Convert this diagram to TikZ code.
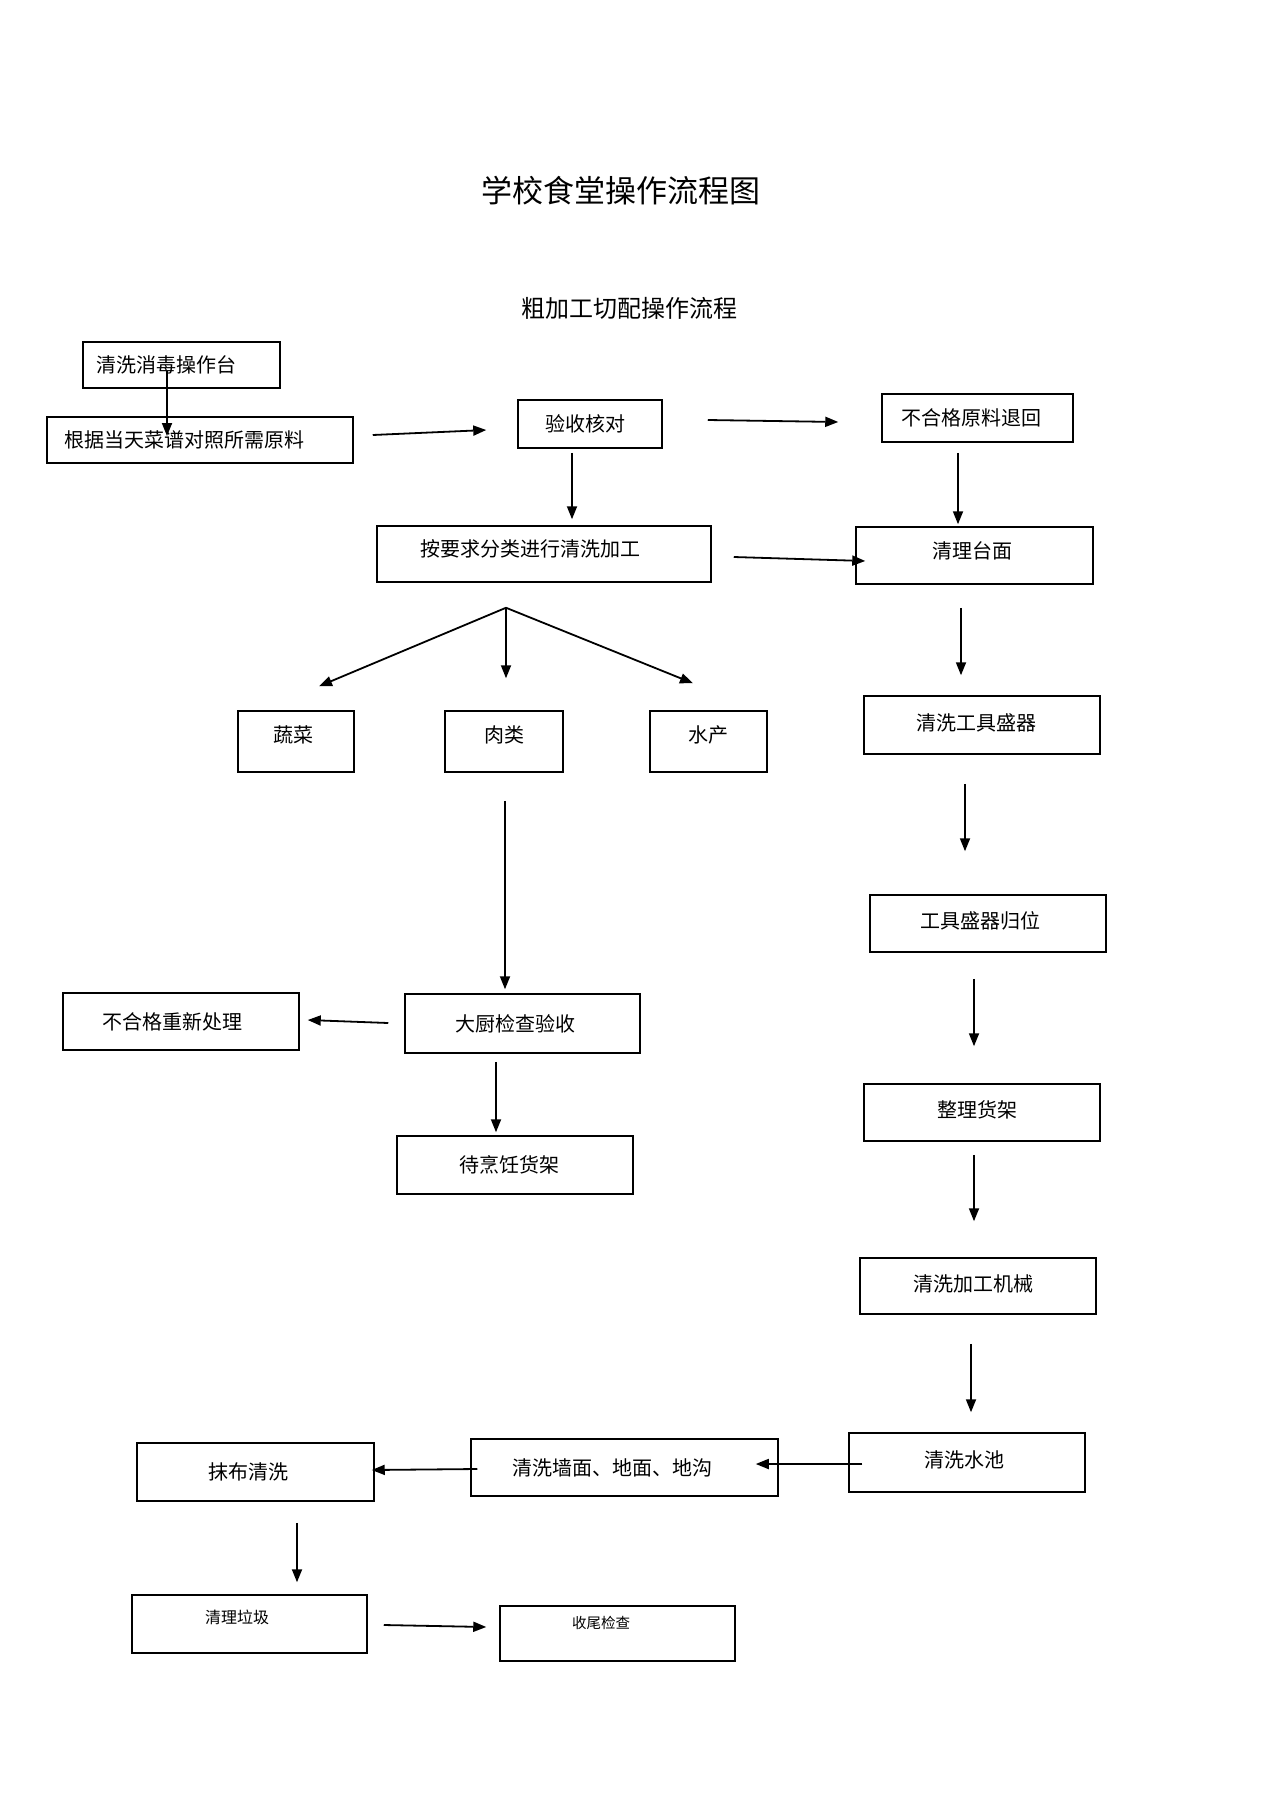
\documentclass[tikz,border=0pt]{standalone}
\usepackage{fontspec}
\setmainfont{Noto Sans CJK SC}
\usetikzlibrary{arrows.meta}

\begin{document}
\begin{tikzpicture}[x=1pt,y=-1pt,->,>={Triangle[length=13pt,width=10pt]},
  proc node/.style={draw,rectangle,line width=1.5pt,inner sep=0pt,font=\fontsize{20}{24}\selectfont},
  lift/.style={text depth=#1},
  flow/.style={line width=1.8pt}]
  \useasboundingbox (0,0) rectangle (1274,1804);
  \node[font=\fontsize{31}{34}\selectfont] (title) at (621,191) {学校食堂操作流程图};
  \node[font=\fontsize{24}{28}\selectfont] (subtitle) at (629,308) {粗加工切配操作流程};

  \node[proc node, minimum width=197, minimum height=46] (xiaodu) at (181.5,365) {清洗消毒操作台\hspace*{31pt}};
  \node[proc node, minimum width=306, minimum height=46] (genju) at (200,440) {根据当天菜谱对照所需原料\hspace*{32pt}};
  \node[proc node, minimum width=144, minimum height=48] (yanshou) at (590,424) {验收核对\hspace*{10pt}};
  \node[proc node, minimum width=191, minimum height=48] (tuihui) at (977.5,418) {不合格原料退回\hspace*{12pt}};
  \node[proc node, minimum width=334, minimum height=56, lift=12pt] (fenlei) at (544,554) {按要求分类进行清洗加工\hspace*{28pt}};
  \node[proc node, minimum width=237, minimum height=57, lift=10pt] (taimian) at (974.5,555.5) {清理台面\hspace*{4pt}};
  \node[proc node, minimum width=116, minimum height=61, lift=14pt] (shucai) at (296,741.5) {蔬菜\hspace*{6pt}};
  \node[proc node, minimum width=118, minimum height=61, lift=14pt] (roulei) at (504,741.5) {肉类};
  \node[proc node, minimum width=117, minimum height=61, lift=14pt] (shuichan) at (708.5,741.5) {水产};
  \node[proc node, minimum width=236, minimum height=58, lift=6pt] (gongju) at (982,725) {清洗工具盛器\hspace*{12pt}};
  \node[proc node, minimum width=236, minimum height=57, lift=6pt] (guiwei) at (988,923.5) {工具盛器归位\hspace*{15pt}};
  \node[proc node, minimum width=236, minimum height=57] (chongxin) at (181,1021.5) {不合格重新处理\hspace*{17pt}};
  \node[proc node, minimum width=235, minimum height=59] (dachu) at (522.5,1023.5) {大厨检查验收\hspace*{14pt}};
  \node[proc node, minimum width=236, minimum height=58] (daipeng) at (515,1165) {待烹饪货架\hspace*{12pt}};
  \node[proc node, minimum width=236, minimum height=57, lift=6pt] (zhengli) at (982,1112.5) {整理货架\hspace*{10pt}};
  \node[proc node, minimum width=236, minimum height=56, lift=6pt] (jixie) at (978,1286) {清洗加工机械\hspace*{10pt}};
  \node[proc node, minimum width=236, minimum height=59, lift=6pt] (shuichi) at (967,1462.5) {清洗水池\hspace*{6pt}};
  \node[proc node, minimum width=307, minimum height=57] (qiangmian) at (624.5,1467.5) {清洗墙面、地面、地沟\hspace*{24pt}};
  \node[proc node, minimum width=237, minimum height=58] (mobu) at (255.5,1472) {抹布清洗\hspace*{14pt}};
  \node[proc node, minimum width=235, minimum height=58, lift=14pt, font=\fontsize{16}{19}\selectfont] (laji) at (249.5,1624) {清理垃圾\hspace*{25pt}};
  \node[proc node, minimum width=235, minimum height=55, lift=22pt, font=\fontsize{14.5}{17}\selectfont] (shouwei) at (617.5,1633.5) {收尾检查\hspace*{33pt}};

  % branching point under the sorting step
  \coordinate (fork) at ([xshift=-38,yshift=-25]fenlei.south);

  \path[flow]
    ([xshift=-14.5,yshift=-6]xiaodu.center) edge ([xshift=-33,yshift=4]genju.center)
    ([xshift=19,yshift=5]genju.east) edge ([xshift=-31,yshift=-6]yanshou.west)
    ([xshift=45,yshift=4]yanshou.east) edge ([xshift=-43,yshift=-4]tuihui.west)
    ([xshift=-18,yshift=-4]yanshou.south) edge ([xshift=28,yshift=6]fenlei.north)
    ([xshift=-19.5,yshift=-10]tuihui.south) edge ([xshift=-16.5,yshift=2]taimian.north)
    ([xshift=22,yshift=-3]fenlei.east) edge ([xshift=10,yshift=-5.5]taimian.west)
    (fork) edge ([xshift=23,yshift=24]shucai.north)
           edge ([xshift=2,yshift=32]roulei.north)
           edge ([xshift=-15.5,yshift=27]shuichan.north)
    ([xshift=-13.5,yshift=-23]taimian.south) edge ([xshift=-21,yshift=20]gongju.north)
    ([xshift=-17,yshift=-29]gongju.south) edge ([xshift=-23,yshift=43]guiwei.north)
    ([xshift=-14,yshift=-26]guiwei.south) edge ([xshift=-8,yshift=37]zhengli.north)
    ([xshift=-8,yshift=-13]zhengli.south) edge ([xshift=-4,yshift=36]jixie.north)
    ([xshift=-7,yshift=-29]jixie.south) edge ([xshift=4,yshift=20]shuichi.north)
    ([xshift=1,yshift=-28]roulei.south) edge ([xshift=-17.5,yshift=4]dachu.north)
    ([xshift=-16,yshift=0.5]dachu.west) edge ([xshift=8,yshift=1.5]chongxin.east)
    ([xshift=-26.5,yshift=-8]dachu.south) edge ([xshift=-19,yshift=3]daipeng.north)
    ([xshift=14,yshift=-1.5]shuichi.west) edge ([xshift=-23,yshift=3.5]qiangmian.east)
    ([xshift=7,yshift=-1.5]qiangmian.west) edge ([xshift=-3,yshift=2]mobu.east)
    ([xshift=41.5,yshift=-21]mobu.south) edge ([xshift=47.5,yshift=12]laji.north)
    ([xshift=16,yshift=-1]laji.east) edge ([xshift=-13,yshift=6.5]shouwei.west);
\end{tikzpicture}
\end{document}
